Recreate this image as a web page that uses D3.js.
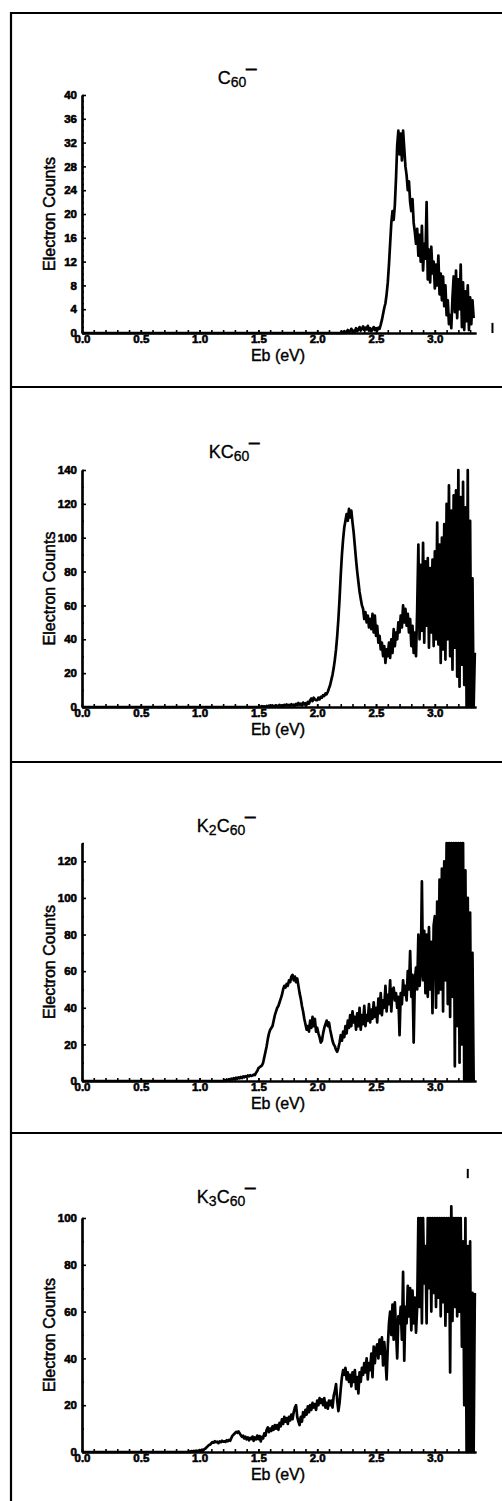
<!DOCTYPE html>
<html lang="en">
<head>
<meta charset="UTF-8">
<title>C60 anion photoelectron spectra</title>
<script src="https://d3js.org/d3.v7.min.js"></script>
<style>
  body { margin: 0; background: #fff; }
  svg text { font-family: 'Liberation Sans', Arial, sans-serif; fill: #000; }
</style>
</head>
<body>
<div id="chart"></div>
<script>
// counts are sampled every 0.01 eV, starting at the given binding energy
var step = 0.01;

var c60Start = 2.20;
var c60Counts = [
  0,0.2,0,0.3,0.1,0.2,0.5,0.1,0.3,0.7,
  0.2,0.4,0.2,0.8,0.3,0.6,1.0,0.4,0.7,1.1,
  0.5,0.9,0.6,1.2,0.4,0.8,0.3,0.6,1.0,0.5,
  0.8,0.4,0.9,0.7,1.4,2.2,3.2,4.2,5.0,6.5,
  8.5,11.5,15,18.5,20.5,19,21.5,26,31.5,34,
  30,33.5,29,34,31,28,26.5,24,25.5,22,
  20.5,22.5,18.5,17,15,17.5,13,16.5,12,18,
  10.5,15,12.5,22,9,14,8.5,14.5,10,12,
  7.5,11.5,8,13,6.5,10,5.5,9.5,4.5,8,
  3,5.5,1.5,3,0.8,6,9.5,3.5,10.5,2.5,
  9,4,11.5,1,8.5,0.5,7,2,8,0.5,
  6,1.5,5.5,2.5
];

var kc60Start = 1.50;
var kc60Counts = [
  0,0.3,0,0.5,0.2,0.4,0,0.6,0.3,0.8,
  0.2,0.5,0.9,0.3,0.7,1.0,0.4,0.8,1.2,0.5,
  1.0,0.6,1.3,0.8,1.5,0.9,1.3,0.7,1.6,1.0,
  1.4,0.8,1.8,1.1,2.4,1.3,2.0,1.0,2.6,1.5,
  2.2,1.4,3.0,2.0,4.0,5.0,3.5,5.5,4.5,4.0,
  4,5.5,4.5,6,5.5,7,6.5,8,7.5,9,
  11,13,16,19,23,28,34,42,52,64,
  78,90,99,106,110,114,110,117,112,116,
  109,103,95,87,80,74,68,64,60,58,
  52,56,50,54,47,52,46,55,44,54,
  42,48,38,42,34,38,30,36,26,34,
  30,38,29,40,32,46,36,44,40,50,
  44,54,47,60,50,58,48,55,44,52,
  36,48,32,44,30,58,96,40,84,45,
  97,38,86,48,88,35,82,44,87,36,
  92,40,109,37,96,26,100,34,108,28,
  120,40,131,30,116,22,125,35,128,18,
  140,12,124,25,133,13,118,0,140,0,
  110,0,76,0,32
];

var k2c60Start = 1.20;
var k2c60Counts = [
  0,0.5,0,0.8,0.3,1.0,0.5,1.3,0.8,1.5,
  1.0,1.8,1.2,2.0,1.5,2.2,1.6,2.5,2.0,2.6,
  2.2,3.0,2.5,3.2,2.8,3.0,3.5,3.2,4.5,5.5,
  7,7.5,8,8.5,10,13,16,19,23,26,
  28,29,30,33,36,38,40,41,43,45,
  47,50,52,51,53,52,55,54,57,58,
  55,57,54,56,52,48,45,41,38,34,
  31,28,30,27,33,29,35,30,34,27,
  29,26,24,21,22,26,29,31,33,30,
  32,28,25,22,20,19,17,16,18,21,
  25,22,27,24,30,26,33,29,36,30,
  38,32,35,28,37,30,40,28,36,31,
  41,30,36,33,42,32,39,34,43,35,
  40,32,45,37,48,36,44,40,52,38,
  47,42,55,38,50,51,44,48,40,46,
  25,48,42,55,47,52,44,60,50,71,
  46,58,21,55,62,50,80,52,60,109,
  55,82,48,80,46,84,50,76,37,85,
  90,40,98,48,110,50,116,38,120,55,
  130,42,130,35,130,46,130,8,130,30,
  130,10,130,20,130,0,115,0,100,0,
  92,0,70,0
];

var k3c60Start = 0.90;
var k3c60Counts = [
  0,0.3,0,0.4,0.2,0.5,0,0.6,0.3,0.5,
  0.8,0.4,1.0,0.6,1.2,1.5,2.0,2.5,3.0,3.2,
  3.8,4.2,4.0,4.6,4.2,4.4,3.8,4.5,4.2,4.8,
  4.4,4.6,4.3,5.0,4.6,5.2,4.8,6.0,7.0,7.5,
  8.0,8.6,8.2,8.8,8.0,7.2,6.5,7.0,5.8,6.5,
  5.4,6.2,5.0,6.0,5.5,6.6,4.8,6.2,5.4,7.0,
  5.5,6.8,4.5,6.5,5.8,8.0,7.0,9.5,10.5,8.5,
  10,9,11,9.5,11.5,10,11.5,9.5,12.5,11,
  14,12,15,13,14.5,12,15,13.5,16,14,
  17,19,20,15,13,11.5,15,13,17,15,
  18,16,19.5,17,20,18,21,19,20.5,18,
  22,20,23,21,22.5,20,23,19,21,18.5,
  22,20,22,19,24,26,29,22,17.5,21,
  27,32,35,33,36,31,34,30,33,28,
  34,30,35,27,32,25,34,30,36,33,
  38,34,40,31,38,35,42,32,45,38,
  44,46,40,48,42,49,37,47,40,31,
  45,55,60,50,63,48,64,52,40,58,
  55,62,48,77,39,62,55,71,58,70,
  52,69,55,66,51,62,100,62,100,55,
  100,72,88,55,100,70,100,60,100,68,
  100,62,100,66,100,58,100,64,100,54,
  100,60,100,34,105,56,100,62,100,58,
  100,60,100,45,90,20,100,0,88,0,
  90,0,68,0,68
];

var xTickValues = [0, 0.5, 1.0, 1.5, 2.0, 2.5, 3.0];
var xTickLabels = ["0.0", "0.5", "1.0", "1.5", "2.0", "2.5", "3.0"];

var c60YTicks = [0, 4, 8, 12, 16, 20, 24, 28, 32, 36, 40];
var kc60YTicks = [0, 20, 40, 60, 80, 100, 120, 140];
var k2c60YTicks = [0, 20, 40, 60, 80, 100, 120];
var k3c60YTicks = [0, 20, 40, 60, 80, 100];

// title pieces: n = normal, s = subscript, m = superscript bar
var c60Title = [["C", "n"], ["60", "s"], ["\u00AF", "m"]];
var kc60Title = [["KC", "n"], ["60", "s"], ["\u00AF", "m"]];
var k2c60Title = [["K", "n"], ["2", "s"], ["C", "n"], ["60", "s"], ["\u00AF", "m"]];
var k3c60Title = [["K", "n"], ["3", "s"], ["C", "n"], ["60", "s"], ["\u00AF", "m"]];

var panels = [
  { start: c60Start, counts: c60Counts, yTicks: c60YTicks, yMax: 40, yMinor: 1, title: c60Title, y0: 333, top: 95, titleX: 237 },
  { start: kc60Start, counts: kc60Counts, yTicks: kc60YTicks, yMax: 140, yMinor: 10, title: kc60Title, y0: 707, top: 470, titleX: 234 },
  { start: k2c60Start, counts: k2c60Counts, yTicks: k2c60YTicks, yMax: 130, yMinor: 10, title: k2c60Title, y0: 1081, top: 843, titleX: 226 },
  { start: k3c60Start, counts: k3c60Counts, yTicks: k3c60YTicks, yMax: 100, yMinor: 10, title: k3c60Title, y0: 1452, top: 1218, titleX: 226 }
];

// the small vertical marks drawn beside two of the spectra
var marks = [
  { panel: 0, e: 3.49, lo: 0, hi: 1.7 },
  { panel: 3, e: 3.28, lo: 117, hi: 121 }
];

var svg = d3.select("#chart")
  .append("svg")
  .attr("width", 502)
  .attr("height", 1501);

// frame and separators
svg.append("path")
  .attr("d", "M11,1501V13H502")
  .attr("fill", "none")
  .attr("stroke", "#000")
  .attr("stroke-width", 2.2);

[387, 762, 1133].forEach(function(yy) {
  svg.append("line")
    .attr("x1", 10).attr("x2", 502)
    .attr("y1", yy).attr("y2", yy)
    .attr("stroke", "#000")
    .attr("stroke-width", 2);
});

var x = d3.scaleLinear().domain([0, 3.35]).range([82, 476]);

panels.forEach(function(p, pi) {
  var y = d3.scaleLinear().domain([0, p.yMax]).range([p.y0, p.top]);
  var g = svg.append("g");

  // x axis: minor ticks every 0.1 eV pointing inward, labels every 0.5
  g.append("g")
    .attr("transform", "translate(0," + p.y0 + ")")
    .call(d3.axisBottom(x).tickValues(d3.range(0.1, 3.31, 0.1)).tickSize(-3).tickSizeOuter(0).tickFormat(""));

  var xa = g.append("g")
    .attr("transform", "translate(0," + p.y0 + ")")
    .call(d3.axisBottom(x).tickValues(xTickValues).tickSize(-3).tickSizeOuter(0).tickPadding(2)
      .tickFormat(function(d, i) { return xTickLabels[i]; }));

  // y axis
  g.append("g")
    .attr("transform", "translate(82,0)")
    .call(d3.axisLeft(y).tickValues(d3.range(0, p.yMax + 0.001, p.yMinor)).tickSize(-2).tickSizeOuter(0).tickFormat(""));

  var ya = g.append("g")
    .attr("transform", "translate(82,0)")
    .call(d3.axisLeft(y).tickValues(p.yTicks).tickSize(-4).tickSizeOuter(0).tickPadding(5));

  g.selectAll(".domain").attr("stroke-width", 2.2);
  g.selectAll(".tick line").attr("stroke-width", 1.6);
  g.selectAll(".tick text")
    .attr("font-size", "11.5px")
    .attr("font-weight", "bold")
    .attr("stroke", "#000")
    .attr("stroke-width", 0.6);

  // axis titles
  g.append("text")
    .attr("x", 278)
    .attr("y", p.y0 + 28)
    .attr("text-anchor", "middle")
    .attr("font-size", "16px")
    .attr("stroke", "#000")
    .attr("stroke-width", 0.4)
    .text("Eb (eV)");

  g.append("text")
    .attr("transform", "translate(49," + ((p.y0 + p.top) / 2) + ") rotate(-90)")
    .attr("dy", "0.35em")
    .attr("text-anchor", "middle")
    .attr("font-size", "16px")
    .attr("stroke", "#000")
    .attr("stroke-width", 0.5)
    .text("Electron Counts");

  // panel title
  var t = g.append("text")
    .attr("x", p.titleX)
    .attr("y", p.y0 - 249)
    .attr("text-anchor", "middle")
    .attr("font-size", "18px")
    .attr("stroke", "#000")
    .attr("stroke-width", 0.3);
  var shift = 0;
  p.title.forEach(function(part) {
    var s = t.append("tspan").text(part[0]);
    if (part[1] == "s") {
      s.attr("font-size", "14px").attr("dy", 3 - shift);
      shift = 3;
    } else if (part[1] == "m") {
      s.attr("font-size", "18px").attr("dy", -1 - shift).attr("stroke-width", 1);
      shift = -1;
    } else {
      s.attr("dy", -shift);
      shift = 0;
    }
  });

  // spectrum
  var pts = [[0, 0]].concat(p.counts.map(function(c, i) { return [p.start + i * step, c]; }));
  var line = d3.line()
    .x(function(d) { return x(d[0]); })
    .y(function(d) { return y(d[1]); });

  g.append("path")
    .datum(pts)
    .attr("d", line)
    .attr("fill", "none")
    .attr("stroke", "#000")
    .attr("stroke-width", 2.7)
    .attr("stroke-linejoin", "round");

  marks.filter(function(m) { return m.panel == pi; }).forEach(function(m) {
    g.append("line")
      .attr("x1", x(m.e)).attr("x2", x(m.e))
      .attr("y1", y(m.lo)).attr("y2", y(m.hi))
      .attr("stroke", "#000")
      .attr("stroke-width", 2);
  });
});
</script>
</body>
</html>
